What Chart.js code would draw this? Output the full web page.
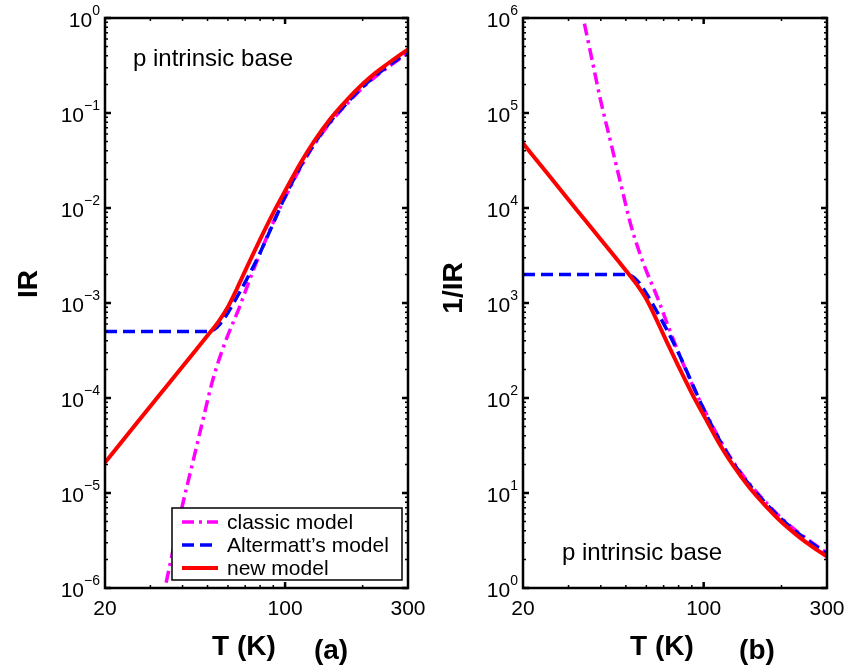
<!DOCTYPE html>
<html>
<head>
<meta charset="utf-8">
<script src="https://cdn.jsdelivr.net/npm/chart.js@4.4.0/dist/chart.umd.min.js"></script>
<style>
  html, body { margin: 0; padding: 0; background: #fff; }
  #wrap { position: relative; width: 849px; height: 670px; overflow: hidden; }
  canvas { position: absolute; top: 0; }
</style>
</head>
<body>
<div id="wrap">
  <canvas id="chartA" width="440" height="670" style="left:0"></canvas>
  <canvas id="chartB" width="429" height="670" style="left:420px"></canvas>
</div>
<script>
// axis ticks
var tempTicks = [20, 100, 300];
var irTicks = [1e-6, 1e-5, 1e-4, 1e-3, 1e-2, 1e-1, 1];
var invTicks = [1, 10, 100, 1e3, 1e4, 1e5, 1e6];
var seriesNames = ['classic model', 'Altermatt\u2019s model', 'new model'];

// (a) IR vs T
var tClassicA = [33, 34.2, 37, 39.8, 43.8, 48, 52.4, 58.4, 66.6, 74.2, 81, 90, 100, 115, 130, 150, 175, 200, 225, 250, 275, 300];
var irClassic = [6.3e-7, 1e-6, 2.75e-6, 7.08e-6, 2.09e-5, 5.89e-5, 1.55e-4, 3.8e-4, 9.12e-4, 2.0e-3, 3.63e-3, 7.08e-3, 0.0129, 0.0269, 0.0468, 0.0794, 0.127, 0.184, 0.243, 0.302, 0.363, 0.427];
var tAltA = [20, 50, 53, 56, 60, 65, 72, 80, 90, 100, 115, 130, 150, 175, 200, 225, 250, 275, 300];
var irAlt = [5e-4, 5e-4, 5.25e-4, 6.03e-4, 7.9e-4, 1.15e-3, 1.91e-3, 3.39e-3, 6.9e-3, 0.0132, 0.0275, 0.0479, 0.0813, 0.130, 0.188, 0.248, 0.309, 0.372, 0.437];
var tNewA = [20, 25, 30, 35, 40, 45, 50, 55, 60, 65, 72, 80, 90, 100, 115, 130, 150, 175, 200, 225, 250, 275, 300];
var irNew = [2.09e-5, 4.43e-5, 8.2e-5, 1.37e-4, 2.14e-4, 3.18e-4, 4.54e-4, 6.3e-4, 9.1e-4, 1.41e-3, 2.57e-3, 4.68e-3, 8.9e-3, 0.0151, 0.030, 0.051, 0.087, 0.140, 0.202, 0.266, 0.33, 0.398, 0.468];

// (b) 1/IR vs T
var tClassicB = [33, 34.2, 37, 39.8, 43.8, 48, 52.4, 58.4, 66.6, 74.2, 81, 90, 100, 115, 130, 150, 175, 200, 225, 250, 275, 300];
var invClassic = [1.58e6, 1e6, 3.63e5, 1.41e5, 4.79e4, 1.70e4, 6460, 2630, 1100, 501, 275, 141, 77.6, 37.2, 21.4, 12.6, 7.85, 5.43, 4.12, 3.31, 2.75, 2.34];
var tAltB = [20, 50, 53, 56, 60, 65, 72, 80, 90, 100, 115, 130, 150, 175, 200, 225, 250, 275, 300];
var invAlt = [2000, 2000, 1900, 1660, 1260, 870, 525, 295, 145, 76, 36.3, 20.9, 12.3, 7.67, 5.31, 4.03, 3.24, 2.69, 2.29];
var tNewB = [20, 25, 30, 35, 40, 45, 50, 55, 60, 65, 72, 80, 90, 100, 115, 130, 150, 175, 200, 225, 250, 275, 300];
var invNew = [47900, 22600, 12200, 7300, 4670, 3140, 2200, 1580, 1100, 710, 390, 214, 112, 66, 33, 19.5, 11.5, 7.16, 4.95, 3.76, 3.0, 2.51, 2.14];

var FONT = "'Liberation Sans', Arial, Helvetica, sans-serif";
Chart.defaults.font.family = FONT;
Chart.defaults.color = '#000';

function pts(xs, ys) {
    return xs.map(function (x, i) { return { x: x, y: ys[i] }; });
}

function makeSets(tc, yc, ta, ya, tn, yn) {
    var base = { pointRadius: 0, fill: false, cubicInterpolationMode: 'monotone' };
    return [
        Object.assign({ label: seriesNames[0], data: pts(tc, yc), borderColor: '#ff00ff', borderWidth: 3.5, borderDash: [12, 5, 3, 5], order: 2 }, base),
        Object.assign({ label: seriesNames[1], data: pts(ta, ya), borderColor: '#0000ff', borderWidth: 3.5, borderDash: [12, 6], order: 1 }, base),
        Object.assign({ label: seriesNames[2], data: pts(tn, yn), borderColor: '#ff0000', borderWidth: 4, order: 0 }, base)
    ];
}

// box, inward ticks and 10^n labels, matlab style
var frameTicks = {
    id: 'frameTicks',
    afterDatasetsDraw: function (chart) {
        var ctx = chart.ctx, a = chart.chartArea;
        var xs = chart.scales.x, ys = chart.scales.y;
        ctx.save();
        ctx.strokeStyle = '#000';
        var lo = Math.round(Math.log10(ys.min)), hi = Math.round(Math.log10(ys.max));
        for (var e = lo; e <= hi; e++) {
            var d = Math.pow(10, e);
            var y = ys.getPixelForValue(d);
            ctx.lineWidth = 2.5;
            ctx.beginPath();
            ctx.moveTo(a.left, y); ctx.lineTo(a.left + 6, y);
            ctx.moveTo(a.right, y); ctx.lineTo(a.right - 6, y);
            ctx.stroke();
            if (e < hi) {
                ctx.lineWidth = 1.5;
                ctx.beginPath();
                for (var m = 2; m <= 9; m++) {
                    var ym = ys.getPixelForValue(m * d);
                    ctx.moveTo(a.left, ym); ctx.lineTo(a.left + 3, ym);
                    ctx.moveTo(a.right, ym); ctx.lineTo(a.right - 3, ym);
                }
                ctx.stroke();
            }
            // label: "10" with raised exponent
            var ex = String(e).replace('-', '\u2212');
            ctx.fillStyle = '#000';
            ctx.textBaseline = 'alphabetic';
            ctx.textAlign = 'left';
            ctx.font = '14px ' + FONT;
            var w2 = ctx.measureText(ex).width;
            ctx.font = '21px ' + FONT;
            var w1 = ctx.measureText('10').width;
            var xr = a.left - 5;
            ctx.fillText('10', xr - w2 - w1, y + 9);
            ctx.font = '14px ' + FONT;
            ctx.fillText(ex, xr - w2, y - 3);
        }
        var minorX = [30, 40, 50, 60, 70, 80, 90, 200];
        ctx.lineWidth = 1.5;
        ctx.beginPath();
        minorX.forEach(function (v) {
            var x = xs.getPixelForValue(v);
            ctx.moveTo(x, a.bottom); ctx.lineTo(x, a.bottom - 3);
            ctx.moveTo(x, a.top); ctx.lineTo(x, a.top + 3);
        });
        ctx.stroke();
        ctx.lineWidth = 2.5;
        ctx.beginPath();
        var x100 = xs.getPixelForValue(100);
        ctx.moveTo(x100, a.bottom); ctx.lineTo(x100, a.bottom - 6);
        ctx.moveTo(x100, a.top); ctx.lineTo(x100, a.top + 6);
        ctx.stroke();
        ctx.lineWidth = 2.5;
        ctx.strokeRect(a.left, a.top, a.right - a.left, a.bottom - a.top);
        ctx.restore();
    }
};

function textPlugin(items) {
    return {
        id: 'panelText',
        afterDraw: function (chart) {
            var ctx = chart.ctx;
            items.forEach(function (t) {
                ctx.save();
                ctx.font = t.font;
                ctx.fillStyle = '#000';
                ctx.textAlign = t.align || 'left';
                ctx.textBaseline = 'alphabetic';
                ctx.translate(t.x, t.y);
                if (t.rotate) ctx.rotate(t.rotate);
                ctx.fillText(t.text, 0, 0);
                ctx.restore();
            });
        }
    };
}

// legend box inside panel (a)
var boxLegend = {
    id: 'boxLegend',
    afterDatasetsDraw: function (chart) {
        var ctx = chart.ctx;
        var bx = 172, by = 508, bw = 230, bh = 72;
        ctx.save();
        ctx.fillStyle = '#fff';
        ctx.fillRect(bx, by, bw, bh);
        ctx.strokeStyle = '#000';
        ctx.lineWidth = 1.5;
        ctx.strokeRect(bx, by, bw, bh);
        chart.data.datasets.forEach(function (ds, i) {
            var y = by + 14 + i * 23;
            ctx.strokeStyle = ds.borderColor;
            ctx.lineWidth = ds.borderWidth;
            ctx.setLineDash(ds.borderDash || []);
            ctx.beginPath();
            ctx.moveTo(182, y); ctx.lineTo(218, y);
            ctx.stroke();
            ctx.setLineDash([]);
            ctx.fillStyle = '#000';
            ctx.font = '21px ' + FONT;
            ctx.textBaseline = 'middle';
            ctx.fillText(ds.label, 227, y + 1);
        });
        ctx.restore();
    }
};

function makeOptions(yMin, yMax, yTicks, yWidth, padRight) {
    return {
        responsive: false,
        animation: false,
        devicePixelRatio: 1,
        layout: { padding: { left: 0, top: 18, right: padRight, bottom: 0 } },
        plugins: { legend: { display: false }, tooltip: { enabled: false } },
        scales: {
            x: {
                type: 'logarithmic',
                min: 20,
                max: 300,
                grid: { display: false, drawTicks: false },
                border: { display: false },
                afterBuildTicks: function (s) { s.ticks = tempTicks.map(function (v) { return { value: v }; }); },
                afterFit: function (s) { s.height = 82; s.paddingLeft = 0; s.paddingRight = 0; },
                ticks: {
                    padding: 9,
                    maxRotation: 0,
                    font: { size: 21 },
                    callback: function (v) { return String(v); }
                }
            },
            y: {
                type: 'logarithmic',
                min: yMin,
                max: yMax,
                grid: { display: false, drawTicks: false },
                border: { display: false },
                afterBuildTicks: function (s) { s.ticks = yTicks.map(function (v) { return { value: v }; }); },
                afterFit: function (s) { s.width = yWidth; s.paddingTop = 0; s.paddingBottom = 0; },
                ticks: { display: false }
            }
        }
    };
}

var bold = 'bold 28px ' + FONT;
var plain = '24px ' + FONT;

new Chart(document.getElementById('chartA'), {
    type: 'line',
    data: { datasets: makeSets(tClassicA, irClassic, tAltA, irAlt, tNewA, irNew) },
    options: makeOptions(1e-6, 1, irTicks, 105, 32),
    plugins: [frameTicks, boxLegend, textPlugin([
        { text: 'p intrinsic base', x: 133, y: 66, font: plain },
        { text: 'IR', x: 37, y: 284, font: bold, align: 'center', rotate: -Math.PI / 2 },
        { text: 'T (K)', x: 244, y: 655, font: bold, align: 'center' },
        { text: '(a)', x: 331, y: 659, font: bold, align: 'center' }
    ])]
});

new Chart(document.getElementById('chartB'), {
    type: 'line',
    data: { datasets: makeSets(tClassicB, invClassic, tAltB, invAlt, tNewB, invNew) },
    options: makeOptions(1, 1e6, invTicks, 103, 22),
    plugins: [frameTicks, textPlugin([
        { text: 'p intrinsic base', x: 142, y: 560, font: plain },
        { text: '1/IR', x: 42, y: 288, font: bold, align: 'center', rotate: -Math.PI / 2 },
        { text: 'T (K)', x: 242, y: 655, font: bold, align: 'center' },
        { text: '(b)', x: 337, y: 659, font: bold, align: 'center' }
    ])]
});
</script>
</body>
</html>
